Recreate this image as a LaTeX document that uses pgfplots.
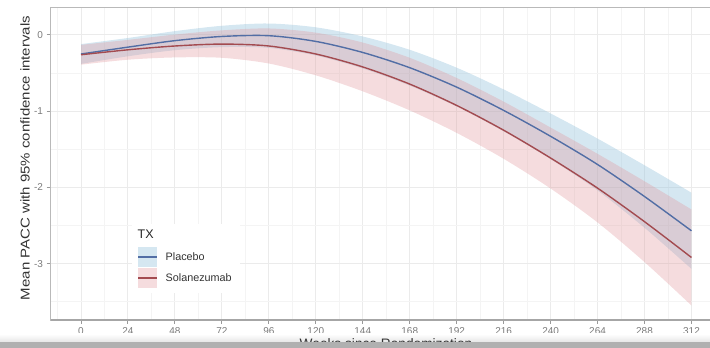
\documentclass[border=0pt]{standalone}
\usepackage{pgfplots}
\usepackage{pgfplotstable}
\pgfplotsset{compat=1.18}
\usepgfplotslibrary{fillbetween}
\usepackage{fontspec}
\setmainfont{Liberation Sans}
\definecolor{pblue}{RGB}{82,110,165}
\definecolor{pred}{RGB}{163,75,80}
\definecolor{bandblue}{RGB}{150,195,220}
\definecolor{bandred}{RGB}{225,150,155}

% Placebo: week, mean, lower, upper
\pgfplotstableread{
w m lo hi
0 -0.25 -0.38 -0.12
24 -0.16 -0.28 -0.04
48 -0.075 -0.20 0.05
72 -0.02 -0.16 0.12
96 -0.01 -0.17 0.15
120 -0.085 -0.27 0.10
144 -0.23 -0.44 -0.02
168 -0.43 -0.665 -0.195
192 -0.685 -0.94 -0.43
216 -0.99 -1.265 -0.715
240 -1.33 -1.63 -1.03
264 -1.70 -2.04 -1.36
288 -2.12 -2.53 -1.71
312 -2.57 -3.07 -2.07
}\placebo

% Solanezumab: week, mean, lower, upper
\pgfplotstableread{
w m lo hi
0 -0.26 -0.39 -0.13
24 -0.195 -0.325 -0.065
48 -0.145 -0.295 0.005
72 -0.12 -0.30 0.06
96 -0.145 -0.375 0.085
120 -0.25 -0.53 0.03
144 -0.42 -0.74 -0.10
168 -0.645 -0.99 -0.30
192 -0.925 -1.285 -0.565
216 -1.25 -1.625 -0.875
240 -1.615 -2.015 -1.215
264 -2.01 -2.46 -1.56
288 -2.45 -2.98 -1.92
312 -2.92 -3.55 -2.29
}\solan

\begin{document}
\begin{tikzpicture}
\begin{axis}[
  at={(50.5pt,28pt)}, anchor=south west,
  scale only axis, width=671.5pt, height=312.5pt,
  xmin=-15.6, xmax=327.6, ymin=-3.74, ymax=0.36,
  xtick={0,24,...,312}, ytick={-3,-2,-1,0},
  minor xtick={-12,12,36,60,84,108,132,156,180,204,228,252,276,300,324},
  minor ytick={-3.5,-2.5,-1.5,-0.5},
  grid=both,
  major grid style={gray!16, line width=1pt},
  minor grid style={gray!9, line width=0.7pt},
  axis line style={gray!55, line width=0.9pt},
  tick align=outside,
  xtick pos=bottom, ytick pos=left,
  major tick length=4pt,
  minor tick style={draw=none},
  major tick style={gray!80, line width=1pt},
  tick label style={font=\fontsize{10}{12}\selectfont, text=black!52},
  /pgf/number format/assume math mode=true,
]
\addplot[name path=pu, draw=none, smooth] table[x=w,y=hi]{\placebo};
\addplot[name path=pl, draw=none, smooth] table[x=w,y=lo]{\placebo};
\addplot[fill=bandblue, fill opacity=0.40, draw=none] fill between[of=pu and pl];
\addplot[name path=su, draw=none, smooth] table[x=w,y=hi]{\solan};
\addplot[name path=sl, draw=none, smooth] table[x=w,y=lo]{\solan};
\addplot[fill=bandred, fill opacity=0.33, draw=none] fill between[of=su and sl];
\addplot[pblue, line width=1.4pt, smooth] table[x=w,y=m]{\placebo};
\addplot[pred, line width=1.4pt, smooth] table[x=w,y=m]{\solan};
\end{axis}
\begin{scope}[x=1pt,y=1pt]
\draw[gray!70, line width=1.1pt] (50.5,28) -- (722,28);
\fill[white] (132,55) rectangle (240,124);
\node[anchor=west, font=\fontsize{12.5}{14}\selectfont, text=black!85, inner sep=0pt] at (137.5,114) {TX};
\fill[bandblue, opacity=0.40] (138,81) rectangle (157,101);
\draw[pblue, line width=1.4pt] (138,91) -- (157,91);
\fill[bandred, opacity=0.33] (138,60) rectangle (157,80);
\draw[pred, line width=1.4pt] (138,70) -- (157,70);
\node[anchor=west, font=\fontsize{10.8}{12}\selectfont, text=black!80, inner sep=0pt] at (165.5,91) {Placebo};
\node[anchor=west, font=\fontsize{10.8}{12}\selectfont, text=black!80, inner sep=0pt] at (165.5,70) {Solanezumab};
\node[rotate=90, font=\fontsize{15}{17}\selectfont, text=black!80, inner sep=0pt] at (25,190) {\scalebox{1}[0.85]{Mean PACC with 95\% confidence intervals}};
\shade[top color=white, bottom color=gray!22] (0,5) rectangle (710,14);
\node[anchor=base, font=\fontsize{13.7}{16}\selectfont, text=black!80, inner sep=0pt] at (386,-0.3) {Weeks since Randomization};
\fill[gray!62] (0,0) rectangle (710,5.5);
\end{scope}
\pgfresetboundingbox
\useasboundingbox (0pt,0pt) rectangle (710pt,348pt);
\end{tikzpicture}
\end{document}
